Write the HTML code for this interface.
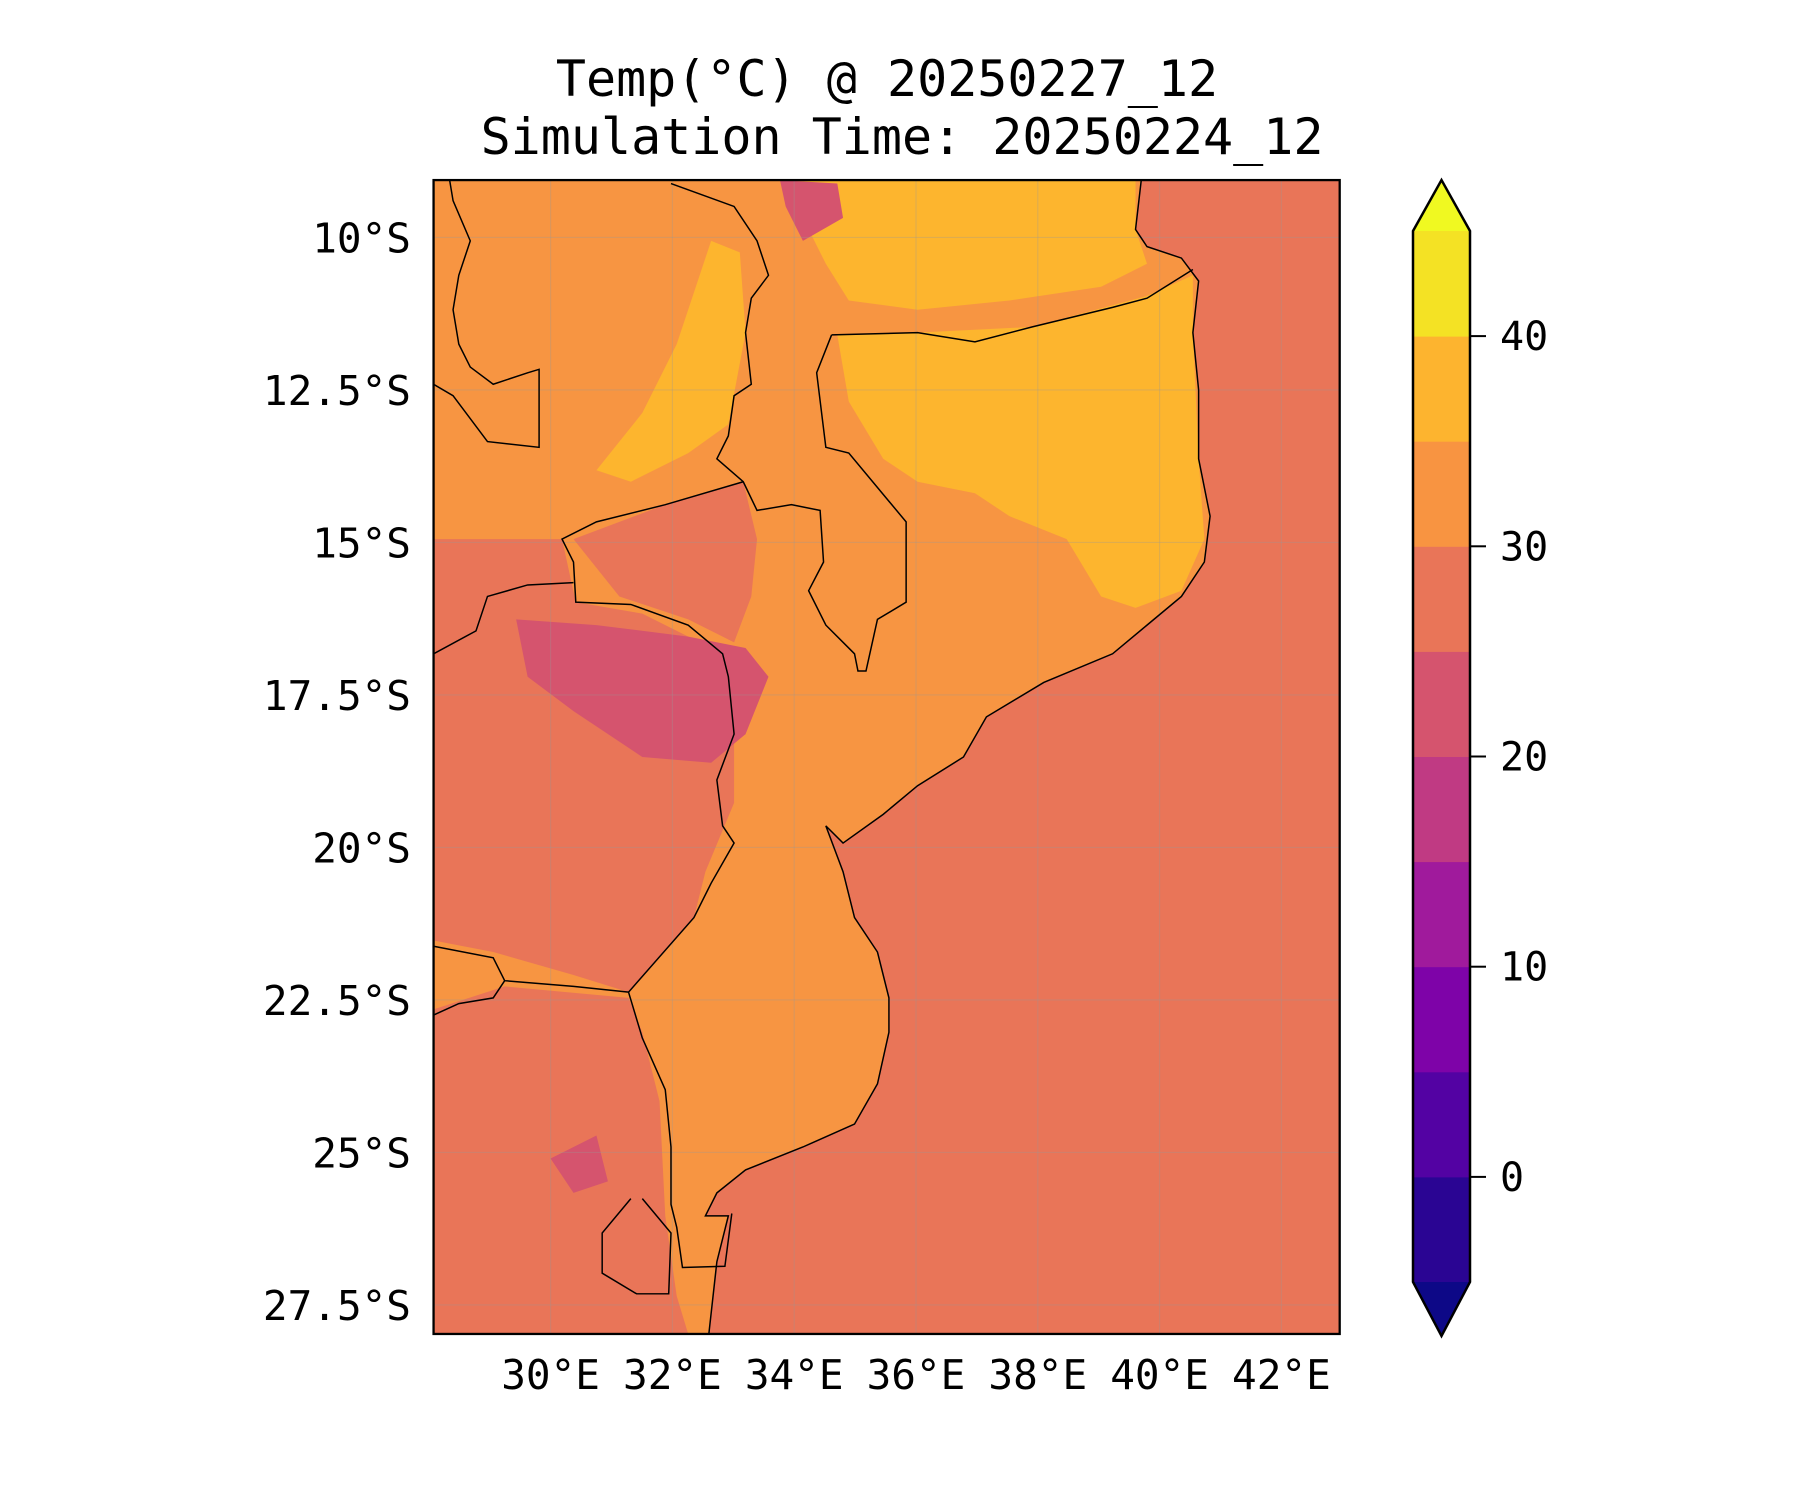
<!DOCTYPE html>
<html><head><meta charset="utf-8"><style>
html,body{margin:0;padding:0;background:#fff;}
svg{display:block;}
text{font-family:"DejaVu Sans Mono","Liberation Mono",monospace;fill:#000;}
</style></head><body>
<svg id="chart" width="1800" height="1500" viewBox="0 0 1800 1500" xmlns="http://www.w3.org/2000/svg">
<text x="887" y="96" font-size="50" text-anchor="middle">Temp(°C) @ 20250227_12</text>
<text x="902" y="154" font-size="50" text-anchor="middle">Simulation Time: 20250224_12</text>
<defs><clipPath id="plotclip"><rect x="378" y="157" width="790" height="1006"/></clipPath></defs>
<g transform="scale(1.147)">
  <g clip-path="url(#plotclip)" id="map">
    <rect x="378" y="157" width="790" height="1006" fill="#e97558"/>
  </g>
  <g id="grid"></g>
  <g id="borders" clip-path="url(#plotclip)"></g>
  <rect x="378" y="157" width="790" height="1006" fill="none" stroke="#000" stroke-width="2"/>
</g>
<g id="axes"></g>
<g id="colorbar"></g>
</svg>
<script>
const NS='http://www.w3.org/2000/svg';
const landOutline=[[378,157],[995,157],[990,200],[1000,215],[1030,225],[1045,245],[1040,290],[1045,340],[1045,400],[1055,450],[1050,490],[1030,520],[1000,545],[970,570],[910,595],[860,625],[840,660],[800,685],[770,710],[735,735],[720,720],[735,760],[745,800],[765,830],[775,870],[775,900],[765,945],[745,980],[700,1000],[650,1020],[625,1040],[615,1060],[635,1060],[625,1100],[618,1163],[378,1163]];
const warmPatches=[
 [[378,470],[490,470],[502,525],[560,535],[610,560],[640,600],[640,700],[615,760],[605,800],[548,865],[500,850],[430,830],[378,820]],
 [[378,880],[440,860],[548,870],[560,900],[575,960],[580,1060],[590,1130],[600,1163],[378,1163]],
 [[500,470],[580,440],[648,420],[660,470],[655,520],[640,560],[600,540],[540,520]]
];
const hotPatches=[
 [[730,292],[800,290],[900,285],[1000,258],[1040,240],[1040,290],[1045,400],[1050,470],[1030,515],[990,530],[960,520],[930,470],[880,450],[850,430],[800,420],[770,400],[740,350]],
 [[680,157],[990,157],[990,200],[1000,230],[960,250],[880,262],[800,270],[740,262],[720,230],[700,190]],
 [[620,210],[645,220],[650,290],[635,370],[600,395],[550,420],[520,410],[560,360],[590,300]]
];
const coolPatches=[
 [[450,540],[520,545],[600,555],[650,565],[670,590],[650,640],[620,665],[560,660],[500,620],[460,590]],
 [[480,1010],[520,990],[530,1030],[500,1040]],
 [[680,157],[730,160],[735,190],[700,210],[685,180]]
];
const borderLines=[
 [[725,292],[800,290],[850,298],[900,285],[970,268],[1000,260],[1040,235]],
 [[725,292],[712,325],[720,390],[740,395],[790,455],[790,525],[765,540],[755,585],[748,585],[745,570],[720,545],[705,515],[718,490],[715,445],[690,440],[660,445],[648,420],[625,400],[635,380],[640,345],[655,335],[650,290],[655,260],[670,240],[660,210],[640,180],[585,160]],
 [[648,420],[580,440],[520,455],[490,470],[500,490],[502,525],[550,527],[600,545],[630,570],[635,590],[640,640],[625,680],[630,720],[640,735],[620,770],[605,800],[548,865],[560,905],[580,950],[585,1000],[585,1050],[590,1070],[595,1105],[632,1104],[638,1058]],
 [[378,570],[415,550],[425,520],[460,510],[500,508]],
 [[378,825],[430,835],[440,855],[500,860],[548,865]],
 [[378,885],[400,875],[430,870],[440,855]],
 [[550,1045],[525,1075],[525,1110],[555,1128],[583,1128],[585,1075],[560,1045]],
 [[378,335],[395,345],[425,385],[470,390],[470,322],[460,325],[430,335],[410,320],[400,300],[395,270],[400,240],[410,210],[395,175],[392,157]],
 [[995,157],[990,200],[1000,215],[1030,225],[1045,245],[1040,290],[1045,340],[1045,400],[1055,450],[1050,490],[1030,520],[1000,545],[970,570],[910,595],[860,625],[840,660],[800,685],[770,710],[735,735],[720,720],[735,760],[745,800],[765,830],[775,870],[775,900],[765,945],[745,980],[700,1000],[650,1020],[625,1040],[615,1060],[635,1060],[625,1100],[618,1163]]
];
const lonTicks=[30,32,34,36,38,40,42];
const latTicks=[10,12.5,15,17.5,20,22.5,25,27.5];
const cbLevels=[-5,0,5,10,15,20,25,30,35,40,45];
const cbColors=['#2a0593','#5302a3','#7e03a8','#a01a9c','#c03a83','#d5546e','#e97558','#f89441','#fdb42f','#f4e224'];
const cbTicks=[0,10,20,30,40];

const xOfLon=lon=>550.6+(lon-30)*60.9;
const yOfLat=lat=>237.4+(lat-10)*61.0;
const S=1.147;
const pts=a=>a.map(p=>p.join(',')).join(' ');
const map=document.getElementById('map');
function poly(arr,fill,name){
  const p=document.createElementNS(NS,'polygon');
  p.setAttribute('points',pts(arr));p.setAttribute('fill',fill);
  
  
  map.appendChild(p);
}
poly(landOutline,'#f79542','land-30-35');
warmPatches.forEach(a=>poly(a,'#e97558','region-25-30'));
hotPatches.forEach(a=>poly(a,'#fdb52e','region-35-40'));
coolPatches.forEach(a=>poly(a,'#d5546e','region-20-25'));
const grid=document.getElementById('grid');
lonTicks.forEach(l=>{const x=xOfLon(l)/S;const ln=document.createElementNS(NS,'line');
 ln.setAttribute('x1',x);ln.setAttribute('x2',x);ln.setAttribute('y1',157);ln.setAttribute('y2',1163);
 ln.setAttribute('stroke','#999');ln.setAttribute('stroke-opacity','0.3');ln.setAttribute('stroke-width','1');
 
 
 grid.appendChild(ln);});
latTicks.forEach(l=>{const y=yOfLat(l)/S;const ln=document.createElementNS(NS,'line');
 ln.setAttribute('x1',378);ln.setAttribute('x2',1168);ln.setAttribute('y1',y);ln.setAttribute('y2',y);
 ln.setAttribute('stroke','#999');ln.setAttribute('stroke-opacity','0.3');ln.setAttribute('stroke-width','1');
 
 
 grid.appendChild(ln);});
const borders=document.getElementById('borders');
borderLines.forEach(a=>{const pl=document.createElementNS(NS,'polyline');
 pl.setAttribute('points',pts(a));pl.setAttribute('fill','none');pl.setAttribute('stroke','#000');pl.setAttribute('stroke-width','1.3');
 
 
 borders.appendChild(pl);});
const axes=document.getElementById('axes');
function txt(parent,x,y,s,anchor,size,name){const t=document.createElementNS(NS,'text');
 t.setAttribute('x',x);t.setAttribute('y',y);t.setAttribute('text-anchor',anchor);t.setAttribute('font-size',size);t.textContent=s;
 
 
 parent.appendChild(t);}
lonTicks.forEach(l=>txt(axes,xOfLon(l),1389,l+'°E','middle',41,'x-tick-label'));
latTicks.forEach(l=>txt(axes,411,yOfLat(l)+15,l+'°S','end',41,'y-tick-label'));
const cb=document.getElementById('colorbar');
const cx0=1413,cx1=1470,cTop=231,cBot=1282;
const yOfVal=v=>cBot-(v-cbLevels[0])/(cbLevels[cbLevels.length-1]-cbLevels[0])*(cBot-cTop);
cbColors.forEach((c,i)=>{const r=document.createElementNS(NS,'rect');
 const y1=yOfVal(cbLevels[i+1]),y0=yOfVal(cbLevels[i]);
 r.setAttribute('x',cx0);r.setAttribute('y',y1);r.setAttribute('width',cx1-cx0);r.setAttribute('height',y0-y1+0.5);r.setAttribute('fill',c);
 
 
 cb.appendChild(r);});
const mid=(cx0+cx1)/2;
const up=document.createElementNS(NS,'polygon');
up.setAttribute('points',`${cx0},${cTop} ${mid},180 ${cx1},${cTop}`);up.setAttribute('fill','#f0f921');


cb.appendChild(up);
const dn=document.createElementNS(NS,'polygon');
dn.setAttribute('points',`${cx0},${cBot} ${mid},1336 ${cx1},${cBot}`);dn.setAttribute('fill','#0d0887');


cb.appendChild(dn);
const outline=document.createElementNS(NS,'polygon');
outline.setAttribute('points',`${cx0},${cTop} ${mid},180 ${cx1},${cTop} ${cx1},${cBot} ${mid},1336 ${cx0},${cBot}`);
outline.setAttribute('fill','none');outline.setAttribute('stroke','#000');outline.setAttribute('stroke-width','2.5');


cb.appendChild(outline);
cbTicks.forEach(v=>{const y=yOfVal(v);const l=document.createElementNS(NS,'line');
 l.setAttribute('x1',cx1);l.setAttribute('x2',cx1+16);l.setAttribute('y1',y);l.setAttribute('y2',y);l.setAttribute('stroke','#000');l.setAttribute('stroke-width','2');
 
 
 cb.appendChild(l);
 txt(cb,1500,y+14,String(v),'start',40,'colorbar-tick-label');});
</script>
</body></html>
